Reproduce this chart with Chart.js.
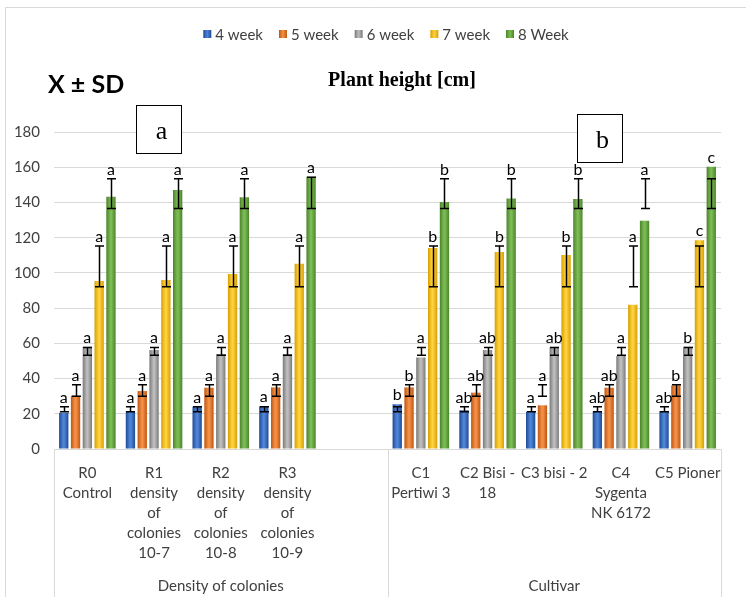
<!DOCTYPE html>
<html><head><meta charset="utf-8">
<script src="https://cdn.jsdelivr.net/npm/chart.js@4.4.1/dist/chart.umd.min.js"></script>
<style>html,body{margin:0;padding:0;background:#fff}#wrap{width:746px;height:597px;position:relative}</style>
</head><body><div id="wrap"><canvas id="c" width="746" height="597"></canvas></div>
<script>
// ---- data ----
const categories = [
  ["R0","Control"],
  ["R1","density","of","colonies","10-7"],
  ["R2","density","of","colonies","10-8"],
  ["R3","density","of","colonies","10-9"],
  [""],
  ["C1","Pertiwi 3"],
  ["C2 Bisi -","18"],
  ["C3 bisi - 2"],
  ["C4","Sygenta","NK 6172"],
  ["C5 Pioner"]
];
const groupLabels = ["Density of colonies", "Cultivar"];
const seriesNames = ["4 week", "5 week", "6 week", "7 week", "8 Week"];
const yTicks = [0, 20, 40, 60, 80, 100, 120, 140, 160, 180];

const week4 = [20.6, 21.4, 24.0, 24.3, null, 25.4, 22.0, 21.2, 21.2, 21.6];
const week5 = [30.3, 32.9, 34.8, 35.0, null, 35.0, 32.0, 24.8, 34.8, 36.1];
const week6 = [58.1, 56.2, 54.0, 54.0, null, 51.9, 56.2, 57.7, 52.8, 58.1];
const week7 = [95.4, 96.0, 99.4, 105.2, null, 114.1, 111.9, 110.2, 81.9, 118.5];
const week8 = [143.3, 147.1, 142.9, 154.6, null, 140.3, 142.3, 141.9, 129.6, 160.3];

const err4Low  = [21.2, 21.2, 21.2, 21.2, null, 21.2, 21.2, 21.2, 21.2, 21.2];
const err4High = [24.0, 24.0, 24.0, 24.0, null, 24.0, 24.0, 24.0, 24.0, 24.0];
const err5Low  = [30.0, 30.0, 30.0, 30.0, null, 30.0, 30.0, 30.0, 30.0, 30.0];
const err5High = [36.5, 36.5, 36.5, 36.5, null, 36.5, 36.5, 36.5, 36.5, 36.5];
const err6Low  = [53.2, 53.2, 53.2, 53.2, null, 53.2, 53.2, 53.2, 53.2, 53.2];
const err6High = [57.7, 57.7, 57.7, 57.7, null, 57.7, 57.7, 57.7, 57.7, 57.7];
const err7Low  = [92.2, 92.2, 92.2, 92.2, null, 92.2, 92.2, 92.2, 92.2, 92.2];
const err7High = [115.3, 115.3, 115.3, 115.3, null, 115.3, 115.3, 115.3, 115.3, 115.3];
const err8Low  = [136.5, 136.5, 136.5, 136.5, null, 136.5, 136.5, 136.5, 136.5, 136.5];
const err8High = [153.5, 153.5, 153.5, 154.3, null, 153.5, 153.5, 153.5, 153.5, 153.5];

const letters4 = ["a","a","a","a","","b","ab","a","ab","ab"];
const letters5 = ["a","a","a","a","","b","ab","a","ab","b"];
const letters6 = ["a","a","a","a","","a","ab","ab","a","b"];
const letters7 = ["a","a","a","a","","b","b","b","a","c"];
const letters8 = ["a","a","a","a","","b","b","b","a","c"];

// ---- styles ----
const colors = [
  {edge:"#1f4a96", mid:"#4f84d6"},
  {edge:"#c0560f", mid:"#f39048"},
  {edge:"#7a7a7a", mid:"#bdbdbd"},
  {edge:"#d6a000", mid:"#ffd040"},
  {edge:"#4a8429", mid:"#7dbb55"}
];
const SANS = "Lato, 'Open Sans', sans-serif";
const SERIF = "'Liberation Serif', 'DejaVu Serif', serif";

const values = [week4, week5, week6, week7, week8];
const errLow = [err4Low, err5Low, err6Low, err7Low, err8Low];
const errHigh = [err4High, err5High, err6High, err7High, err8High];
const letters = [letters4, letters5, letters6, letters7, letters8];

const datasets = values.map((v, i) => ({
  label: seriesNames[i],
  data: v,
  backgroundColor: colors[i].mid,
  borderWidth: 0,
  categoryPercentage: 0.885,
  barPercentage: 0.79
}));

const decorPlugin = {
  id: 'decor',
  beforeDraw(chart) {
    const ctx = chart.ctx;
    ctx.save();
    ctx.fillStyle = '#fff';
    ctx.fillRect(0, 0, chart.width, chart.height);
    ctx.strokeStyle = '#d9d9d9';
    ctx.lineWidth = 1;
    ctx.beginPath();
    ctx.moveTo(5.5, chart.height);
    ctx.lineTo(5.5, 7.5);
    ctx.lineTo(chart.width, 7.5);
    ctx.stroke();

    // legend
    ctx.font = "15px " + SANS;
    ctx.textBaseline = 'middle';
    const box = 8, gapBox = 4, gapItem = 16;
    let total = 0;
    const widths = seriesNames.map(n => ctx.measureText(n).width);
    widths.forEach((w, i) => { total += box + gapBox + w + (i < widths.length - 1 ? gapItem : 0); });
    let x = 386 - total / 2;
    const ly = 34;
    seriesNames.forEach((n, i) => {
      const g = ctx.createLinearGradient(x, 0, x + box, 0);
      g.addColorStop(0, colors[i].edge); g.addColorStop(0.5, colors[i].mid); g.addColorStop(1, colors[i].edge);
      ctx.fillStyle = g;
      ctx.fillRect(x, ly - box / 2, box, box);
      ctx.fillStyle = '#404040';
      ctx.textAlign = 'left';
      ctx.fillText(n, x + box + gapBox, ly + 1);
      x += box + gapBox + widths[i] + gapItem;
    });

    // headings
    ctx.fillStyle = '#000';
    ctx.font = "bold 25px " + SANS;
    ctx.textAlign = 'left';
    ctx.textBaseline = 'alphabetic';
    ctx.fillText("X ± SD", 48, 93);
    ctx.font = "bold 20px " + SERIF;
    ctx.textAlign = 'center';
    ctx.fillText("Plant height [cm]", 402, 86);
    ctx.restore();
  },
  beforeDatasetsDraw(chart) {
    const ctx = chart.ctx;
    chart.data.datasets.forEach((ds, i) => {
      const meta = chart.getDatasetMeta(i);
      meta.data.forEach((el, j) => {
        if (ds.data[j] == null) return;
        const w = el.width;
        const g = ctx.createLinearGradient(el.x - w / 2, 0, el.x + w / 2, 0);
        g.addColorStop(0, colors[i].edge);
        g.addColorStop(0.45, colors[i].mid);
        g.addColorStop(0.55, colors[i].mid);
        g.addColorStop(1, colors[i].edge);
        el.options = Object.assign({}, el.options, {backgroundColor: g});
      });
    });
  },
  afterDatasetsDraw(chart) {
    const ctx = chart.ctx;
    const y = chart.scales.y, xs = chart.scales.x;
    ctx.save();
    chart.data.datasets.forEach((ds, i) => {
      const meta = chart.getDatasetMeta(i);
      meta.data.forEach((el, j) => {
        if (ds.data[j] == null) return;
        const cx = Math.round(el.x) + 0.5;
        const yl = y.getPixelForValue(errLow[i][j]);
        const yh = y.getPixelForValue(errHigh[i][j]);
        const cap = 4.5;
        ctx.strokeStyle = '#000';
        ctx.lineWidth = 1.5;
        ctx.beginPath();
        ctx.moveTo(cx, yl); ctx.lineTo(cx, yh);
        ctx.moveTo(cx - cap, yl); ctx.lineTo(cx + cap, yl);
        ctx.moveTo(cx - cap, yh); ctx.lineTo(cx + cap, yh);
        ctx.stroke();
        const top = Math.min(el.y, yh);
        ctx.fillStyle = '#000';
        ctx.font = "16px " + SANS;
        ctx.textAlign = 'center';
        ctx.textBaseline = 'alphabetic';
        ctx.fillText(letters[i][j], el.x, top - 4);
      });
    });

    // label box lines and group labels
    const left = xs.left, right = xs.right;
    const divider = (xs.getPixelForValue(4) + xs.getPixelForValue(5)) / 2;
    ctx.strokeStyle = '#d9d9d9';
    ctx.lineWidth = 1;
    ctx.beginPath();
    [left, divider, right].forEach(px => {
      const p = Math.round(px) + 0.5;
      ctx.moveTo(p, xs.top); ctx.lineTo(p, chart.height);
    });
    ctx.stroke();
    ctx.fillStyle = '#404040';
    ctx.font = "15px " + SANS;
    ctx.textAlign = 'center';
    ctx.textBaseline = 'middle';
    ctx.fillText(groupLabels[0], (left + divider) / 2, 586);
    ctx.fillText(groupLabels[1], (divider + right) / 2, 586);

    // annotation boxes
    const boxes = [["a", 1.066, 181.7], ["b", 7.68, 176.6]];
    boxes.forEach(([t, idx, val]) => {
      const bx = xs.getPixelForValue(idx), by = y.getPixelForValue(val);
      ctx.fillStyle = '#fff';
      ctx.fillRect(bx - 22.5, by - 24, 45, 48);
      ctx.strokeStyle = '#000';
      ctx.lineWidth = 1;
      ctx.strokeRect(Math.round(bx - 22.5) + 0.5, Math.round(by - 24) + 0.5, 45, 48);
      ctx.fillStyle = '#000';
      ctx.font = "26px " + SERIF;
      ctx.textAlign = 'center';
      ctx.textBaseline = 'middle';
      ctx.fillText(t, bx + 3, by + 3);
    });
    ctx.restore();
  }
};

new Chart(document.getElementById('c'), {
  type: 'bar',
  data: { labels: categories, datasets },
  options: {
    responsive: false,
    animation: false,
    devicePixelRatio: 1,
    layout: { padding: { left: 0, right: 25, top: 132, bottom: 0 } },
    plugins: { legend: { display: false }, title: { display: false }, tooltip: { enabled: false } },
    scales: {
      x: {
        grid: { display: false },
        border: { display: true, color: '#d9d9d9' },
        ticks: {
          autoSkip: false, maxRotation: 0, minRotation: 0, padding: 6,
          color: '#404040',
          font: { family: SANS, size: 15, lineHeight: '20px' }
        },
        afterFit: s => { s.height = 148; }
      },
      y: {
        min: 0, max: 180,
        afterBuildTicks: s => { s.ticks = yTicks.map(v => ({ value: v })); },
        grid: { color: '#d9d9d9', drawTicks: false },
        border: { display: false },
        ticks: { padding: 14, color: '#404040', font: { family: SANS, size: 15 } },
        afterFit: s => { s.width = 54; }
      }
    }
  },
  plugins: [decorPlugin]
});
</script>
</body></html>
